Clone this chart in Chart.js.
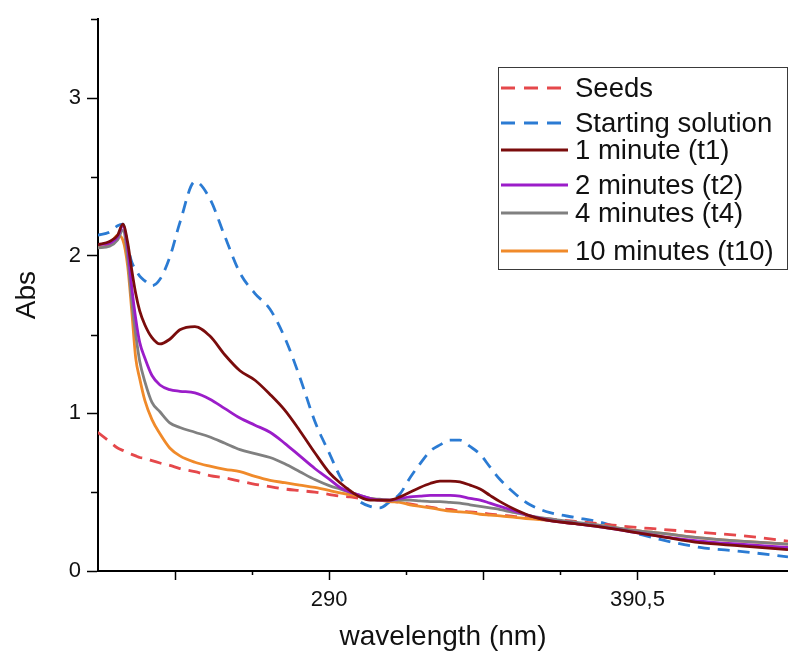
<!DOCTYPE html>
<html>
<head>
<meta charset="utf-8">
<script src="https://cdn.jsdelivr.net/npm/chart.js@4.4.1/dist/chart.umd.min.js"></script>
<style>
  html, body { margin: 0; padding: 0; background: #fff; }
  #wrap { width: 788px; height: 657px; }
</style>
</head>
<body>
<div id="wrap"><canvas id="c" width="788" height="657"></canvas></div>
<script>
// ---- data ----
const wavelengths = [214.5, 218.4, 221.0, 222.7, 224.3, 225.6, 226.9, 228.2, 229.9, 232.2,
  234.8, 238.0, 241.3, 246.2, 251.1, 256.0, 260.9, 265.8, 270.7, 275.5,
  280.4, 285.3, 290.2, 293.5, 296.8, 300.0, 303.3, 306.5, 309.8, 313.1,
  316.3, 319.6, 322.9, 326.1, 329.4, 332.6, 335.9, 339.2, 342.4, 345.7,
  350.6, 355.5, 362.0, 370.2, 378.3, 388.1, 397.9, 410.9, 424.0, 439.6];

const seeds = [0.88, 0.82, 0.78, 0.765, 0.75, 0.74, 0.73, 0.72, 0.715, 0.70,
  0.685, 0.67, 0.65, 0.63, 0.605, 0.59, 0.57, 0.55, 0.535, 0.52,
  0.51, 0.50, 0.485, 0.475, 0.47, 0.46, 0.455, 0.45, 0.445, 0.435,
  0.425, 0.415, 0.405, 0.395, 0.39, 0.38, 0.375, 0.37, 0.36, 0.355,
  0.345, 0.34, 0.33, 0.315, 0.30, 0.28, 0.265, 0.245, 0.225, 0.19];

const startingSolution = [2.13, 2.15, 2.19, 2.20, 2.06, 1.96, 1.91, 1.87, 1.84, 1.81,
  1.85, 1.99, 2.21, 2.47, 2.36, 2.12, 1.89, 1.76, 1.66, 1.48,
  1.23, 0.95, 0.74, 0.60, 0.50, 0.44, 0.41, 0.40, 0.44, 0.49,
  0.59, 0.68, 0.76, 0.80, 0.83, 0.83, 0.79, 0.74, 0.66, 0.58,
  0.49, 0.42, 0.37, 0.34, 0.31, 0.25, 0.20, 0.15, 0.125, 0.09];

const t1 = [2.07, 2.09, 2.13, 2.20, 2.08, 1.91, 1.76, 1.65, 1.56, 1.48,
  1.44, 1.47, 1.53, 1.55, 1.49, 1.37, 1.27, 1.21, 1.12, 1.02,
  0.89, 0.75, 0.62, 0.56, 0.51, 0.47, 0.45, 0.45, 0.45, 0.47,
  0.50, 0.53, 0.555, 0.57, 0.57, 0.565, 0.545, 0.52, 0.48, 0.44,
  0.39, 0.35, 0.32, 0.30, 0.28, 0.25, 0.22, 0.18, 0.16, 0.135];

const t2 = [2.07, 2.08, 2.12, 2.19, 2.05, 1.80, 1.60, 1.45, 1.35, 1.24,
  1.18, 1.15, 1.14, 1.13, 1.09, 1.03, 0.97, 0.925, 0.88, 0.81,
  0.73, 0.65, 0.58, 0.53, 0.50, 0.48, 0.46, 0.45, 0.45, 0.46,
  0.47, 0.475, 0.48, 0.48, 0.48, 0.475, 0.46, 0.45, 0.43, 0.41,
  0.38, 0.35, 0.32, 0.30, 0.28, 0.25, 0.22, 0.19, 0.17, 0.15];

const t4 = [2.05, 2.06, 2.10, 2.16, 1.98, 1.71, 1.50, 1.33, 1.20, 1.07,
  1.01, 0.94, 0.91, 0.88, 0.85, 0.81, 0.77, 0.745, 0.72, 0.68,
  0.63, 0.58, 0.54, 0.52, 0.50, 0.48, 0.46, 0.455, 0.45, 0.45,
  0.45, 0.445, 0.44, 0.44, 0.435, 0.43, 0.42, 0.41, 0.40, 0.39,
  0.37, 0.35, 0.33, 0.31, 0.29, 0.26, 0.24, 0.21, 0.19, 0.17];

const t10 = [2.05, 2.07, 2.13, 2.10, 1.93, 1.65, 1.35, 1.22, 1.08, 0.96,
  0.87, 0.78, 0.73, 0.69, 0.665, 0.645, 0.63, 0.60, 0.575, 0.56,
  0.545, 0.53, 0.51, 0.495, 0.485, 0.475, 0.46, 0.45, 0.44, 0.435,
  0.42, 0.41, 0.40, 0.39, 0.38, 0.375, 0.37, 0.36, 0.355, 0.35,
  0.34, 0.33, 0.32, 0.30, 0.29, 0.26, 0.24, 0.21, 0.19, 0.17];

const seriesLabels = ['Seeds', 'Starting solution', '1 minute (t1)', '2 minutes (t2)', '4 minutes (t4)', '10 minutes (t10)'];

// axis ticks
const xMajorTicks = [239.75, 290, 340.25, 390.5];
const xMinorTicks = [264.875, 315.125, 365.375, 415.625];
const xTickLabels = { '290': '290', '390.5': '390,5' };
const yMajorTicks = [0, 1, 2, 3];
const yMinorTicks = [0.5, 1.5, 2.5, 3.5];
const yTickLabels = { '0': '0', '1': '1', '2': '2', '3': '3' };

// ---- chart ----
const FONT = "'Liberation Sans', Arial, sans-serif";
const colors = ['#e5484b', '#2b7bd3', '#7a0c0c', '#9b1dc9', '#808080', '#f08a2a'];
const dashes = [[12, 8], [12, 8], [], [], [], []];
const allSeries = [seeds, startingSolution, t1, t2, t4, t10];

const datasets = allSeries.map((vals, i) => ({
  label: seriesLabels[i],
  data: wavelengths.map((w, j) => ({ x: w, y: vals[j] })),
  borderColor: colors[i],
  backgroundColor: colors[i],
  borderWidth: 2.8,
  borderDash: dashes[i],
  pointRadius: 0,
  tension: 0.35,
  cubicInterpolationMode: 'monotone',
  fill: false,
  order: i < 2 ? 1 : 0
}));

const minorTickPlugin = {
  id: 'minorTicks',
  afterDraw(chart) {
    const ctx = chart.ctx;
    const xs = chart.scales.x, ys = chart.scales.y;
    ctx.save();
    ctx.strokeStyle = '#000';
    ctx.lineWidth = 1.5;
    ctx.beginPath();
    xMinorTicks.forEach(v => {
      const px = Math.round(xs.getPixelForValue(v)) + 0.5;
      ctx.moveTo(px, xs.top);
      ctx.lineTo(px, xs.top + 4);
    });
    yMinorTicks.forEach(v => {
      const py = Math.round(ys.getPixelForValue(v)) + 0.5;
      ctx.moveTo(ys.right, py);
      ctx.lineTo(ys.right - 7, py);
    });
    ctx.stroke();
    ctx.restore();
  }
};

const legendPlugin = {
  id: 'boxLegend',
  afterDraw(chart) {
    const ctx = chart.ctx;
    const rows = [88, 123, 150, 185, 213, 251];
    ctx.save();
    ctx.fillStyle = '#fff';
    ctx.fillRect(498.5, 67.5, 289, 202);
    ctx.strokeStyle = '#3a3a3a';
    ctx.lineWidth = 1;
    ctx.strokeRect(498.5, 67.5, 289, 202);
    chart.data.datasets.forEach((ds, i) => {
      const y = rows[i];
      ctx.strokeStyle = ds.borderColor;
      ctx.lineWidth = 2.8;
      ctx.setLineDash(ds.borderDash.length ? [14, 9] : []);
      ctx.beginPath();
      ctx.moveTo(501, y);
      ctx.lineTo(568, y);
      ctx.stroke();
      ctx.setLineDash([]);
      ctx.fillStyle = '#111';
      ctx.font = "27.5px " + FONT;
      ctx.textBaseline = 'middle';
      ctx.textAlign = 'left';
      ctx.fillText(ds.label, 575, y + 1);
    });
    ctx.restore();
  }
};

new Chart(document.getElementById('c'), {
  type: 'line',
  data: { datasets },
  options: {
    responsive: false,
    animation: false,
    devicePixelRatio: 1,
    layout: { padding: { top: 15, right: 0, left: 0, bottom: 0 } },
    plugins: { legend: { display: false }, tooltip: { enabled: false } },
    scales: {
      x: {
        type: 'linear',
        min: 214.6,
        max: 439.6,
        afterBuildTicks: s => { s.ticks = xMajorTicks.map(v => ({ value: v })); },
        afterFit: s => { s.height = 86; },
        ticks: {
          autoSkip: false,
          maxRotation: 0,
          padding: 7,
          color: '#111',
          font: { family: FONT, size: 22 },
          callback: v => xTickLabels[String(v)] || ''
        },
        grid: {
          drawOnChartArea: false,
          drawTicks: true,
          tickLength: 9,
          tickColor: '#000',
          tickWidth: 1.5
        },
        border: { display: true, color: '#000', width: 2 },
        title: {
          display: true,
          text: 'wavelength (nm)',
          color: '#111',
          font: { family: FONT, size: 28 },
          padding: { top: 0, bottom: 3 }
        }
      },
      y: {
        type: 'linear',
        min: 0,
        max: 3.5,
        afterBuildTicks: s => { s.ticks = yMajorTicks.map(v => ({ value: v })); },
        afterFit: s => { s.width = 98; },
        ticks: {
          padding: 6,
          color: '#111',
          font: { family: FONT, size: 22 },
          callback: v => yTickLabels[String(v)] || ''
        },
        grid: {
          drawOnChartArea: false,
          drawTicks: true,
          tickLength: 11,
          tickColor: '#000',
          tickWidth: 1.5
        },
        border: { display: true, color: '#000', width: 2 },
        title: {
          display: true,
          text: 'Abs',
          color: '#111',
          font: { family: FONT, size: 28 },
          padding: { top: 10, bottom: 0 }
        }
      }
    }
  },
  plugins: [minorTickPlugin, legendPlugin]
});
</script>
</body>
</html>
